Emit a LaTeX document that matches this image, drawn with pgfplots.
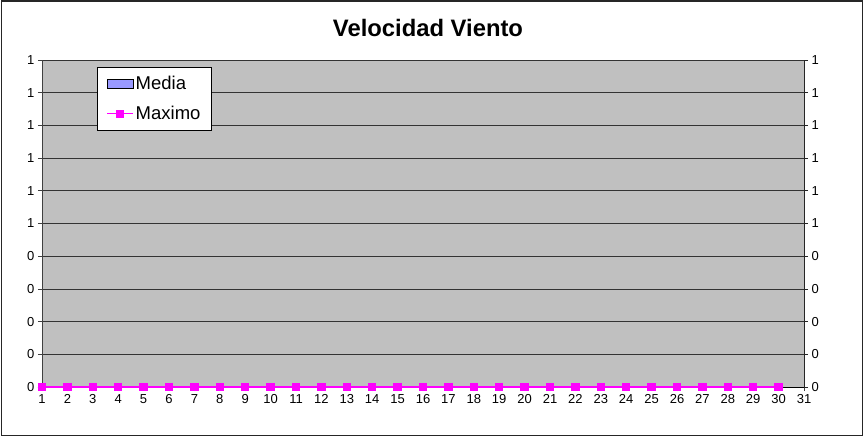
\documentclass[border=0pt]{standalone}
\usepackage{fontspec}
\setmainfont{Liberation Sans}
\usepackage{pgfplots}
\pgfplotsset{compat=1.18}
\definecolor{plotgray}{HTML}{C0C0C0}
\definecolor{mediafill}{HTML}{9999FF}
\definecolor{magentaM}{HTML}{FF00FF}
\pgfplotsset{
  medialegend/.style={legend image code/.code={\draw[fill=mediafill,draw=black,line width=1pt] (0pt,-4.5pt) rectangle (26pt,4.5pt);}},
  maxlegend/.style={legend image code/.code={\draw[magentaM, line width=1.3pt] (0pt,0pt) -- (26pt,0pt); \fill[magentaM] (9.5pt,-3.3pt) rectangle (16.5pt,3.3pt);}},
}
\begin{document}
\begin{tikzpicture}
\useasboundingbox (0pt,0pt) rectangle (864pt,437pt);
\draw[line width=1.4pt, black!85] (1.2pt,1.8pt) rectangle (862.5pt,436pt);
\node[font=\fontsize{23.8}{28}\selectfont\bfseries, anchor=base] at (428pt,400pt) {Velocidad Viento};
\begin{axis}[
  at={(42pt,50pt)}, anchor=south west,
  scale only axis, width=762pt, height=327pt,
  xmin=1, xmax=31, ymin=0, ymax=1,
  /pgf/number format/assume math mode=true,
  axis x line*=bottom, axis y line*=left,
  axis line style={black!75, line width=0.8pt},
  x axis line style={black},
  xtick={1,...,31},
  ytick={0,0.1,0.2,0.3,0.4,0.5,0.6,0.7,0.8,0.9,1},
  yticklabels={0,0,0,0,0,1,1,1,1,1,1},
  tick align=outside, major tick length=4pt,
  tick style={black!75, line width=0.8pt},
  ymajorgrids,
  grid style={black!80, line width=0.8pt},
  axis background/.style={fill=plotgray},
  ticklabel style={font=\fontsize{13}{15}\selectfont},
  clip=false,
  legend style={at={(axis description cs:0.0722,0.9786)}, anchor=north west,
    draw=black, fill=white, line width=0.8pt,
    font=\fontsize{18.5}{21}\selectfont,
    inner xsep=9pt, inner ysep=7pt, row sep=11pt,
    nodes={inner xsep=2pt}},
  legend cell align=left,
]
\addplot[ybar, bar width=10pt, fill=mediafill, draw=none, medialegend]
  coordinates {(1,0) (2,0) (3,0) (4,0) (5,0) (6,0) (7,0) (8,0) (9,0) (10,0) (11,0) (12,0) (13,0) (14,0) (15,0) (16,0) (17,0) (18,0) (19,0) (20,0) (21,0) (22,0) (23,0) (24,0) (25,0) (26,0) (27,0) (28,0) (29,0) (30,0)};
\addlegendentry{Media}
\addplot[magentaM, line width=1.2pt, mark=square*, mark size=3.6pt,
  mark options={fill=magentaM, draw=magentaM}, maxlegend]
  coordinates {(1,0) (2,0) (3,0) (4,0) (5,0) (6,0) (7,0) (8,0) (9,0) (10,0) (11,0) (12,0) (13,0) (14,0) (15,0) (16,0) (17,0) (18,0) (19,0) (20,0) (21,0) (22,0) (23,0) (24,0) (25,0) (26,0) (27,0) (28,0) (29,0) (30,0)};
\addlegendentry{Maximo}
\end{axis}
\begin{axis}[
  at={(42pt,50pt)}, anchor=south west,
  scale only axis, width=762pt, height=327pt,
  xmin=1, xmax=31, ymin=0, ymax=1,
  axis x line=none, axis y line*=right,
  axis line style={black!85, line width=0.8pt},
  ytick={0,0.1,0.2,0.3,0.4,0.5,0.6,0.7,0.8,0.9,1},
  yticklabels={0,0,0,0,0,1,1,1,1,1,1},
  tick align=outside, major tick length=4pt,
  tick style={black!85, line width=0.8pt},
  ticklabel style={font=\fontsize{13}{15}\selectfont},
]
\end{axis}
\end{tikzpicture}
\end{document}
